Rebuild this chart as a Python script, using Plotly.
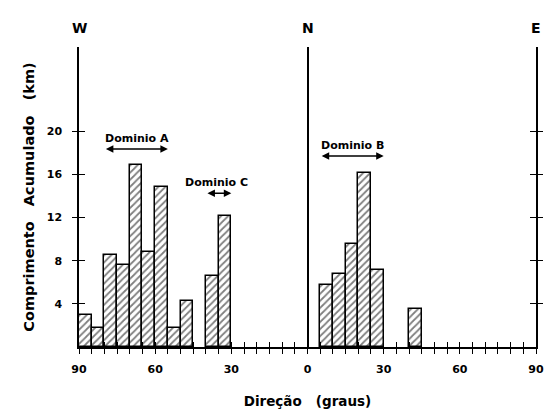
import plotly.graph_objects as go

# Direction bins (degrees; West side negative, East side positive), 5-degree classes
west_centers = [-87.5, -82.5, -77.5, -72.5, -67.5, -62.5, -57.5, -52.5, -47.5, -37.5, -32.5]
west_values = [3.0, 1.8, 8.5, 7.6, 16.9, 8.8, 14.8, 1.8, 4.3, 6.6, 12.1]
east_centers = [7.5, 12.5, 17.5, 22.5, 27.5, 42.5]
east_values = [5.7, 6.8, 9.5, 16.1, 7.1, 3.5]

x_tickvals = list(range(-90, 95, 5))
x_label_map = {-90: "90", -60: "60", -30: "30", 0: "0", 30: "30", 60: "60", 90: "90"}
x_ticktext = [x_label_map.get(v, "") for v in x_tickvals]
y_tickvals = [4, 8, 12, 16, 20]
y_ticktext = ["4", "8", "12", "16", "20"]

cardinals = ["W", "N", "E"]
cardinal_pos = [-90, 0, 90]

domains = ["Dominio A", "Dominio C", "Dominio B"]
domain_from = [-80, -40, 5]
domain_to = [-55, -30, 30]
domain_text_x = [-67.3, -35.7, 17.8]
domain_text_y = [19.3, 15.2, 18.7]
domain_arrow_y = [18.35, 14.25, 17.7]

FONT = "DejaVu Sans"
BLACK = "black"
SP = "\u00a0\u00a0\u00a0"

bar_style = dict(
    marker=dict(
        color="white",
        line=dict(color=BLACK, width=1.5),
        pattern=dict(shape="/", size=5, solidity=0.35, fgcolor=BLACK, bgcolor="white"),
    ),
    width=5,
    showlegend=False,
    hoverinfo="skip",
)

fig = go.Figure()
fig.add_trace(go.Bar(x=west_centers, y=west_values, **bar_style))
fig.add_trace(go.Bar(x=east_centers, y=east_values, **bar_style))
# invisible trace to host the overlay axes (inner half of cross ticks)
fig.add_trace(go.Scatter(x=[0], y=[0], xaxis="x2", yaxis="y2", mode="markers",
                         marker=dict(opacity=0), showlegend=False, hoverinfo="skip"))

YMAX = 27.8

fig.update_layout(
    width=544, height=416,
    margin=dict(l=79, r=8, t=47, b=69),
    paper_bgcolor="white", plot_bgcolor="white",
    bargap=0,
    font=dict(family=FONT, color=BLACK),
    xaxis=dict(
        range=[-90, 90], showgrid=False, automargin=False,
        zeroline=True, zerolinecolor=BLACK, zerolinewidth=1.5,
        showline=True, linecolor=BLACK, linewidth=1.5,
        ticks="outside", ticklen=5, tickwidth=1.3, tickcolor=BLACK,
        tickvals=x_tickvals, ticktext=x_ticktext,
        tickfont=dict(family=FONT, size=11, color=BLACK, weight="bold"),
        ticklabelstandoff=6, ticklabeloverflow="allow",
        title=dict(text="Direção" + SP + "(graus)", standoff=22,
                   font=dict(family=FONT, size=13.5, color=BLACK, weight="bold")),
        fixedrange=True,
    ),
    xaxis2=dict(
        range=[-90, 90], overlaying="x", side="bottom", showgrid=False, zeroline=False,
        automargin=False,
        showline=False, ticks="inside", ticklen=5, tickwidth=1.3, tickcolor=BLACK,
        tickvals=x_tickvals, showticklabels=False, layer="above traces",
    ),
    yaxis=dict(
        range=[0, YMAX], showgrid=False, zeroline=False, automargin=False,
        showline=True, linecolor=BLACK, linewidth=1.5, mirror="ticks",
        ticks="outside", ticklen=5, tickwidth=1.3, tickcolor=BLACK,
        tickvals=y_tickvals, ticktext=y_ticktext,
        tickfont=dict(family=FONT, size=11, color=BLACK, weight="bold"),
        ticklabelstandoff=8,
        title=dict(text="Comprimento" + SP + "Acumulado" + SP + "(km)", standoff=9,
                   font=dict(family=FONT, size=14.5, color=BLACK, weight="bold")),
        fixedrange=True,
    ),
    yaxis2=dict(
        range=[0, YMAX], overlaying="y", side="left", showgrid=False, zeroline=False,
        automargin=False,
        showline=False, mirror="ticks", ticks="inside", ticklen=6, tickwidth=1.3,
        tickcolor=BLACK, tickvals=y_tickvals, showticklabels=False, layer="above traces",
    ),
)

for name, pos in zip(cardinals, cardinal_pos):
    fig.add_annotation(x=pos, xref="x", y=1, yref="paper", yshift=29, text=name,
                       showarrow=False, font=dict(family=FONT, size=14, color=BLACK, weight="bold"))

for name, x0, x1, tx, ty, ay in zip(domains, domain_from, domain_to, domain_text_x, domain_text_y, domain_arrow_y):
    fig.add_annotation(x=x1, y=ay, ax=x0, ay=ay, xref="x", yref="y", axref="x", ayref="y",
                       text="", showarrow=True, arrowhead=2, arrowside="end+start",
                       arrowsize=1, arrowwidth=1.5, arrowcolor=BLACK)
    fig.add_annotation(x=tx, y=ty, xref="x", yref="y", text=name, showarrow=False,
                       font=dict(family=FONT, size=11, color=BLACK, weight="bold"))

fig.write_html(
    "out.html",
    config={"displayModeBar": False},
    post_script="document.body.style.margin='0';document.body.style.padding='0';"
                "document.body.style.overflow='hidden';",
)
